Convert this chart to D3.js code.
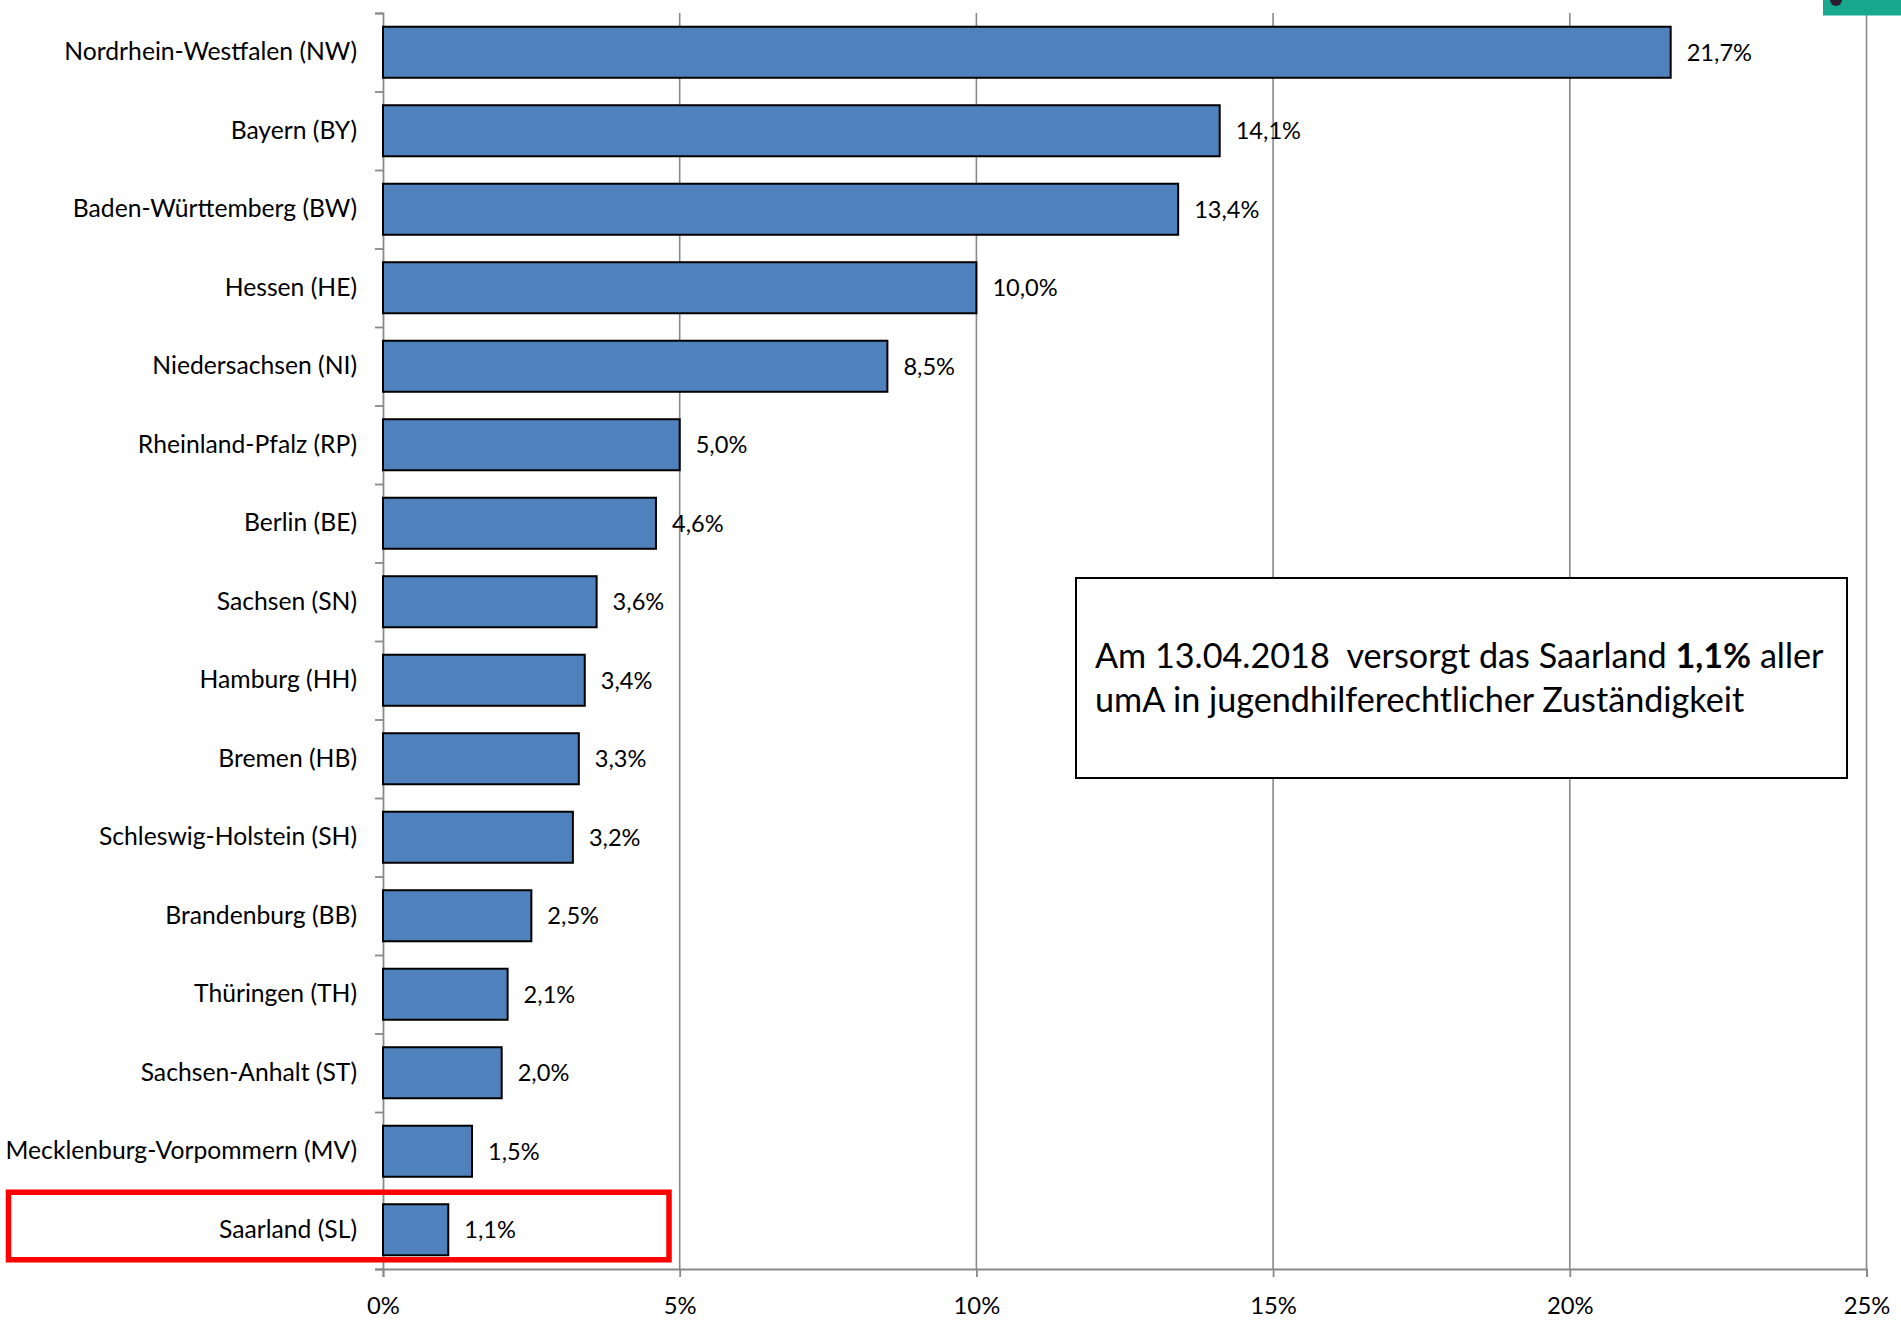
<!DOCTYPE html>
<html>
<head>
<meta charset="utf-8">
<script src="https://cdn.jsdelivr.net/npm/d3@7"></script>
<style>
  body { margin: 0; background: #fff; }
  svg { display: block; }
  text { font-family: Lato, "Open Sans", sans-serif; fill: #000; }
</style>
</head>
<body>
<div id="chart"></div>
<script>
// Data
const states = [
  "Nordrhein-Westfalen (NW)", "Bayern (BY)", "Baden-Württemberg (BW)", "Hessen (HE)",
  "Niedersachsen (NI)", "Rheinland-Pfalz (RP)", "Berlin (BE)", "Sachsen (SN)",
  "Hamburg (HH)", "Bremen (HB)", "Schleswig-Holstein (SH)", "Brandenburg (BB)",
  "Thüringen (TH)", "Sachsen-Anhalt (ST)", "Mecklenburg-Vorpommern (MV)", "Saarland (SL)"
];
const shares = [21.7, 14.1, 13.4, 10.0, 8.5, 5.0, 4.6, 3.6, 3.4, 3.3, 3.2, 2.5, 2.1, 2.0, 1.5, 1.1];
const xTicks = [0, 5, 10, 15, 20, 25];
const xTickLabels = ["0%", "5%", "10%", "15%", "20%", "25%"];
const highlighted = "Saarland (SL)";
const noteLine1 = ["Am 13.04.2018  versorgt das Saarland ", "1,1%", " aller"];
const noteLine2 = "umA in jugendhilferechtlicher Zuständigkeit";

// Dimensions
const dimensions = {
  width: 1901,
  height: 1326,
  left: 383,
  top: 13,
  right: 34.5,
  bottom: 57,
};
dimensions.ctrWidth = dimensions.width - dimensions.left - dimensions.right;
dimensions.ctrHeight = dimensions.height - dimensions.top - dimensions.bottom;

const de = d3.formatLocale({ decimal: ",", thousands: ".", grouping: [3], currency: ["", " €"] });
const fmt = (v) => de.format(".1f")(v) + "%";

const svg = d3.select("#chart")
  .append("svg")
  .attr("width", dimensions.width)
  .attr("height", dimensions.height);

const ctr = svg.append("g")
  .attr("transform", `translate(${dimensions.left}, ${dimensions.top})`);

// Scales
const xScale = d3.scaleLinear()
  .domain([0, 25])
  .range([0, dimensions.ctrWidth]);

const yScale = d3.scaleBand()
  .domain(states)
  .range([0, dimensions.ctrHeight])
  .paddingInner(0.35)
  .paddingOuter(0.175);

const yEdge = d3.scaleLinear()
  .domain([0, states.length])
  .range([0, dimensions.ctrHeight]);

const axisColor = "#898989";

// Gridlines
ctr.append("g")
  .selectAll("line")
  .data(xTicks.filter((d) => d > 0))
  .join("line")
  .attr("x1", (d) => xScale(d))
  .attr("x2", (d) => xScale(d))
  .attr("y1", 0)
  .attr("y2", dimensions.ctrHeight)
  .attr("stroke", axisColor)
  .attr("stroke-width", 1.6);

// Y axis (ticks between categories)
const yEdgeAxis = ctr.append("g")
  .call(d3.axisLeft(yEdge).ticks(states.length).tickSize(8).tickSizeOuter(8).tickFormat(""));
yEdgeAxis.selectAll("path, line").attr("stroke", axisColor).attr("stroke-width", 1.8);

// Category labels
const yLabels = ctr.append("g")
  .call(d3.axisLeft(yScale).tickSize(0).tickPadding(26));
yLabels.select(".domain").remove();
yLabels.selectAll("text")
  .style("font-family", "Lato, 'Open Sans', sans-serif")
  .style("font-size", "24.7px")
  .attr("fill", "#000");

// X axis
const xAxisGroup = ctr.append("g")
  .attr("transform", `translate(0, ${dimensions.ctrHeight})`)
  .call(d3.axisBottom(xScale).tickValues(xTicks).tickSize(8).tickPadding(20)
    .tickFormat((d, i) => xTickLabels[i]));
xAxisGroup.selectAll("path, line").attr("stroke", axisColor).attr("stroke-width", 1.8);
xAxisGroup.selectAll("text")
  .style("font-family", "Lato, 'Open Sans', sans-serif")
  .style("font-size", "23.8px")
  .attr("fill", "#000");

// Bars
ctr.append("g")
  .selectAll("rect")
  .data(shares)
  .join("rect")
  .attr("x", xScale(0))
  .attr("y", (d, i) => yScale(states[i]))
  .attr("width", (d) => xScale(d) - xScale(0))
  .attr("height", yScale.bandwidth())
  .attr("fill", "#4F81BD")
  .attr("stroke", "#000")
  .attr("stroke-width", 2);

// Value labels
ctr.append("g")
  .selectAll("text")
  .data(shares)
  .join("text")
  .attr("x", (d) => xScale(d) + 16)
  .attr("y", (d, i) => yScale(states[i]) + yScale.bandwidth() / 2)
  .attr("dy", "0.36em")
  .style("font-size", "23.6px")
  .text((d) => fmt(d));

// Highlight box around Saarland
const hlTop = yScale(highlighted);
ctr.append("rect")
  .attr("x", 8.5 - dimensions.left)
  .attr("y", hlTop - 12)
  .attr("width", xScale(4.82) - (8.5 - dimensions.left))
  .attr("height", yScale.bandwidth() + 16.5)
  .attr("fill", "none")
  .attr("stroke", "#ff0000")
  .attr("stroke-width", 5.5);

// Note box
const note = svg.append("g");
note.append("rect")
  .attr("x", 1076)
  .attr("y", 578)
  .attr("width", 771)
  .attr("height", 200)
  .attr("fill", "#fff")
  .attr("stroke", "#000")
  .attr("stroke-width", 2);

const t1 = note.append("text")
  .attr("x", 1095)
  .attr("y", 668)
  .style("font-size", "34.2px")
  .style("white-space", "pre");
t1.selectAll("tspan")
  .data(noteLine1)
  .join("tspan")
  .style("font-weight", (d, i) => (i === 1 ? "bold" : "normal"))
  .text((d) => d);

note.append("text")
  .attr("x", 1095)
  .attr("y", 712)
  .style("font-size", "34.2px")
  .text(noteLine2);

// Cut-off logo in the top right corner
svg.append("rect")
  .attr("x", 1823)
  .attr("y", 0)
  .attr("width", 78)
  .attr("height", 15.5)
  .attr("fill", "#17a88f");
svg.append("circle")
  .attr("cx", 1836)
  .attr("cy", 0)
  .attr("r", 6)
  .attr("fill", "#2a1c2a");
</script>
</body>
</html>
